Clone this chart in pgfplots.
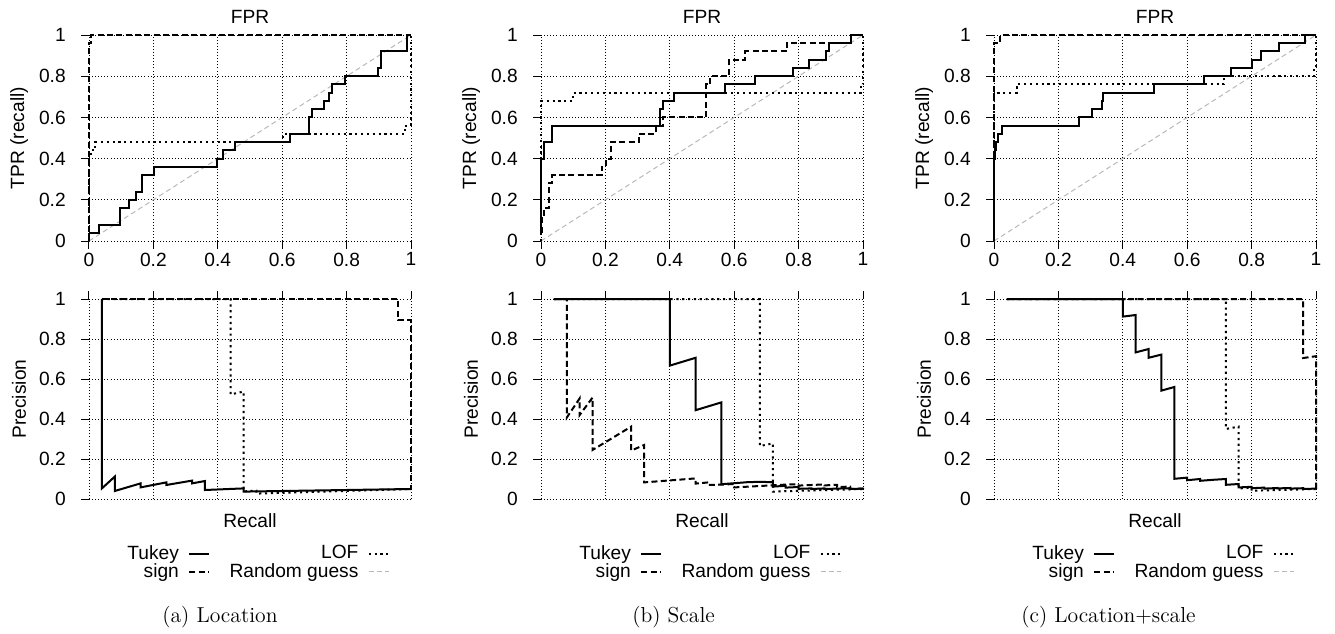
\documentclass[border=0pt]{standalone}
\usepackage{fontspec}
\usepackage{pgfplots}
\pgfplotsset{compat=1.18}
\newfontfamily\lab{Liberation Sans}
\newcommand{\labfont}{\lab\fontsize{11.5}{13.8}\selectfont}
\newcommand{\capfont}{\fontsize{13}{15.6}\selectfont}

\tikzset{
  tukey/.style={black, line width=1.2pt},
  sign/.style={black, line width=1.2pt, dash pattern=on 3.6pt off 2pt},
  lof/.style={black, line width=1.2pt, dash pattern=on 1.3pt off 2.2pt},
  rg/.style={black!28, line width=0.6pt, dash pattern=on 3pt off 2pt},
}
\pgfplotsset{
  base/.style={
    scale only axis, width=193.2pt, clip=false,
    xmin=0, xmax=1, ymin=0, ymax=1,
    xtick={0,0.2,0.4,0.6,0.8,1}, ytick={0,0.2,0.4,0.6,0.8,1},
    yticklabels={0,0.2,0.4,0.6,0.8,1},
    axis line style={draw=none},
    tick align=outside, major tick length=4.8pt,
    every tick/.style={black, line width=0.6pt},
    grid=major,
    major grid style={black, line width=0.55pt, dash pattern=on 0.55pt off 1.3pt},
    ytick pos=left,
    tick label style={font=\labfont},
    label style={font=\labfont},
    yticklabel style={anchor=east, inner sep=0pt, xshift=-9pt},
    ylabel style={at={(axis description cs:-0.217,0.5)}, anchor=center},
  },
  roc/.style={base, height=123.6pt, xtick pos=bottom,
    xticklabels={0,0.2,0.4,0.6,0.8,1},
    xticklabel style={anchor=north, inner sep=0pt, yshift=-2pt},
    extra description/.code={\node[font=\labfont, anchor=center, inner sep=0pt] at (axis description cs:0.5,1.09) {FPR};},
    ylabel={TPR (recall)}},
  pr/.style={base, height=120pt, xtick pos=top, xticklabels={},
    xlabel={Recall}, xlabel style={at={(axis description cs:0.5,-0.11)}, anchor=center},
    ylabel={Precision},
    legend columns=2, legend plot pos=right, legend cell align=right,
    legend image code/.code={\draw[##1] (0pt,0pt) -- (12pt,0pt);},
    legend style={draw=none, fill=none, inner sep=0pt, font=\labfont,
      at={(axis description cs:0.115,-0.225)}, anchor=north west,
      row sep=0pt,
      nodes={inner sep=0.6pt},
      /tikz/every odd column/.append style={column sep=5pt},
      /tikz/every even column/.append style={column sep=11pt}},
  },
}

\begin{document}
\begin{tikzpicture}
\useasboundingbox (0,0) rectangle (801pt,-380.4pt);

% ---------------- (a) Location ----------------
\begin{axis}[roc, at={(53.4pt,-21pt)}, anchor=north west]
\addplot[rg] coordinates {(0,0) (1,1)};
\addplot[lof] coordinates {(0,0)(0,0.4)(0.005,0.4)(0.005,0.44)(0.02,0.44)(0.02,0.48)(0.603,0.48)(0.603,0.52)(0.98,0.52)(0.98,0.56)(1,0.56)(1,1)};
\addplot[sign] coordinates {(0,0)(0,0.96)(0.006,0.96)(0.006,1)(1,1)};
\addplot[tukey] coordinates {(0,0.04)(0.03,0.04)(0.03,0.08)(0.096,0.08)(0.096,0.16)(0.125,0.16)(0.125,0.2)(0.146,0.2)(0.146,0.24)(0.164,0.24)(0.164,0.32)(0.203,0.32)(0.203,0.36)(0.399,0.36)(0.399,0.4)(0.415,0.4)(0.415,0.44)(0.453,0.44)(0.453,0.48)(0.624,0.48)(0.624,0.52)(0.684,0.52)(0.684,0.6)(0.692,0.6)(0.692,0.64)(0.73,0.64)(0.73,0.68)(0.746,0.68)(0.746,0.72)(0.756,0.72)(0.756,0.76)(0.795,0.76)(0.795,0.8)(0.896,0.8)(0.896,0.84)(0.907,0.84)(0.907,0.92)(0.987,0.92)(0.987,1)(1,1)};
\end{axis}
\begin{axis}[pr, at={(53.4pt,-179.4pt)}, anchor=north west]
\addplot[lof, forget plot] coordinates {(0.04,1)(0.44,1)(0.44,0.523)(0.48,0.537)(0.48,0.038)(0.52,0.042)(0.52,0.027)(0.56,0.029)(1,0.05)};
\addplot[sign, forget plot] coordinates {(0.04,1)(0.96,1)(0.96,0.893)(1,0.893)(1,0.05)};
\addplot[tukey, forget plot] coordinates {(0.04,1)(0.04,0.053)(0.08,0.112)(0.08,0.04)(0.16,0.078)(0.16,0.058)(0.24,0.083)(0.24,0.07)(0.32,0.092)(0.32,0.078)(0.36,0.09)(0.36,0.045)(0.48,0.053)(0.48,0.037)(1,0.05)};
\addlegendimage{tukey}\addlegendentry{Tukey}
\addlegendimage{lof}\addlegendentry{LOF}
\addlegendimage{sign}\addlegendentry{sign}
\addlegendimage{rg}\addlegendentry{Random guess}
\end{axis}

% ---------------- (b) Scale ----------------
\begin{axis}[roc, at={(324.6pt,-21pt)}, anchor=north west]
\addplot[rg] coordinates {(0,0) (1,1)};
\addplot[lof] coordinates {(0,0)(0,0.68)(0.1,0.68)(0.1,0.72)(0.993,0.72)(0.993,0.76)(1,0.76)(1,1)};
\addplot[sign] coordinates {(0.003,0.04)(0.003,0.12)(0.008,0.12)(0.008,0.16)(0.025,0.16)(0.025,0.28)(0.035,0.28)(0.035,0.32)(0.188,0.32)(0.188,0.36)(0.203,0.36)(0.203,0.4)(0.217,0.4)(0.217,0.48)(0.303,0.48)(0.303,0.52)(0.358,0.52)(0.358,0.56)(0.379,0.56)(0.379,0.6)(0.513,0.6)(0.513,0.76)(0.525,0.76)(0.525,0.8)(0.585,0.8)(0.585,0.88)(0.635,0.88)(0.635,0.92)(0.764,0.92)(0.764,0.96)(0.962,0.96)(0.962,1)(1,1)};
\addplot[tukey] coordinates {(0,0.04)(0,0.4)(0.01,0.4)(0.01,0.48)(0.033,0.48)(0.033,0.56)(0.368,0.56)(0.368,0.64)(0.379,0.64)(0.379,0.68)(0.413,0.68)(0.413,0.72)(0.57,0.72)(0.57,0.76)(0.666,0.76)(0.666,0.8)(0.784,0.8)(0.784,0.84)(0.833,0.84)(0.833,0.88)(0.884,0.88)(0.884,0.92)(0.895,0.92)(0.895,0.96)(0.962,0.96)(0.962,1)(1,1)};
\end{axis}
\begin{axis}[pr, at={(324.6pt,-179.4pt)}, anchor=north west]
\addplot[lof, forget plot] coordinates {(0.04,1)(0.68,1)(0.68,0.265)(0.72,0.278)(0.72,0.037)(0.76,0.039)(1,0.05)};
\addplot[sign, forget plot] coordinates {(0.04,1)(0.08,1)(0.08,0.407)(0.12,0.503)(0.12,0.42)(0.16,0.507)(0.16,0.245)(0.28,0.362)(0.28,0.242)(0.32,0.27)(0.32,0.083)(0.48,0.103)(0.48,0.077)(0.52,0.083)(0.52,0.07)(0.56,0.072)(0.6,0.075)(0.6,0.058)(0.76,0.072)(0.8,0.074)(0.8,0.067)(0.88,0.073)(0.88,0.068)(0.92,0.071)(0.92,0.06)(0.96,0.062)(0.96,0.05)(1,0.052)(1,0.05)};
\addplot[tukey, forget plot] coordinates {(0.04,1)(0.4,1)(0.4,0.667)(0.48,0.706)(0.48,0.444)(0.56,0.483)(0.56,0.074)(0.64,0.084)(0.68,0.086)(0.72,0.084)(0.72,0.062)(0.76,0.066)(0.76,0.057)(0.8,0.06)(0.8,0.051)(0.84,0.053)(0.84,0.05)(0.88,0.053)(0.88,0.05)(0.96,0.054)(0.96,0.05)(1,0.052)(1,0.05)};
\addlegendimage{tukey}\addlegendentry{Tukey}
\addlegendimage{lof}\addlegendentry{LOF}
\addlegendimage{sign}\addlegendentry{sign}
\addlegendimage{rg}\addlegendentry{Random guess}
\end{axis}

% ---------------- (c) Location+scale ----------------
\begin{axis}[roc, at={(596.4pt,-21pt)}, anchor=north west]
\addplot[rg] coordinates {(0,0) (1,1)};
\addplot[lof] coordinates {(0,0)(0,0.72)(0.07,0.72)(0.07,0.76)(0.715,0.76)(0.715,0.8)(0.995,0.8)(0.995,0.84)(1,0.84)(1,1)};
\addplot[sign] coordinates {(0,0)(0,0.96)(0.019,0.96)(0.019,1)(1,1)};
\addplot[tukey] coordinates {(0,0.04)(0,0.4)(0.002,0.4)(0.002,0.44)(0.006,0.44)(0.006,0.48)(0.011,0.48)(0.011,0.52)(0.024,0.52)(0.024,0.56)(0.263,0.56)(0.263,0.6)(0.303,0.6)(0.303,0.64)(0.334,0.64)(0.334,0.68)(0.339,0.68)(0.339,0.72)(0.496,0.72)(0.496,0.76)(0.652,0.76)(0.652,0.8)(0.735,0.8)(0.735,0.84)(0.802,0.84)(0.802,0.88)(0.828,0.88)(0.828,0.92)(0.886,0.92)(0.886,0.96)(0.966,0.96)(0.966,1)(1,1)};
\end{axis}
\begin{axis}[pr, at={(596.4pt,-179.4pt)}, anchor=north west]
\addplot[lof, forget plot] coordinates {(0.04,1)(0.72,1)(0.72,0.35)(0.76,0.362)(0.76,0.053)(0.8,0.056)(0.8,0.041)(0.84,0.043)(1,0.05)};
\addplot[sign, forget plot] coordinates {(0.04,1)(0.96,1)(0.96,0.705)(1,0.714)(1,0.05)};
\addplot[tukey, forget plot] coordinates {(0.04,1)(0.4,1)(0.4,0.912)(0.44,0.92)(0.44,0.733)(0.48,0.75)(0.48,0.706)(0.52,0.722)(0.52,0.542)(0.56,0.56)(0.56,0.101)(0.6,0.107)(0.6,0.094)(0.64,0.1)(0.64,0.091)(0.68,0.096)(0.72,0.1)(0.72,0.071)(0.76,0.075)(0.76,0.058)(0.8,0.061)(0.8,0.054)(0.84,0.057)(0.84,0.052)(0.88,0.055)(0.88,0.053)(0.92,0.055)(0.92,0.052)(0.96,0.054)(0.96,0.05)(1,0.052)(1,0.05)};
\addlegendimage{tukey}\addlegendentry{Tukey}
\addlegendimage{lof}\addlegendentry{LOF}
\addlegendimage{sign}\addlegendentry{sign}
\addlegendimage{rg}\addlegendentry{Random guess}
\end{axis}

% captions
\node[anchor=west, font=\capfont, inner sep=0pt] at (97.2pt,-370.2pt) {(a) Location};
\node[anchor=west, font=\capfont, inner sep=0pt] at (379.2pt,-370.2pt) {(b) Scale};
\node[anchor=west, font=\capfont, inner sep=0pt] at (612.6pt,-370.2pt) {(c) Location+scale};
\end{tikzpicture}
\end{document}
